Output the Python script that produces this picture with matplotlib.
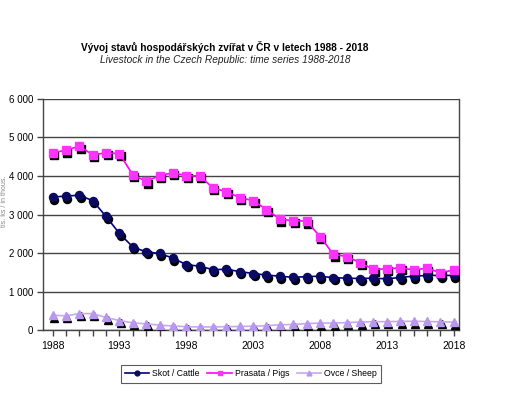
import matplotlib
matplotlib.use('Agg')
import matplotlib.pyplot as plt
import matplotlib.transforms as mtransforms
from matplotlib.ticker import FuncFormatter, MultipleLocator

plt.rcParams['font.family'] = ['Liberation Sans', 'DejaVu Sans']

years = list(range(1988, 2019))
cattle = [3450, 3480, 3500, 3360, 2950, 2510, 2160, 2030, 1990, 1870, 1700, 1660, 1570, 1580,
          1520, 1470, 1430, 1400, 1370, 1390, 1400, 1360, 1350, 1340, 1350, 1330, 1370, 1400,
          1420, 1420, 1420]
pigs = [4600, 4670, 4770, 4550, 4600, 4580, 4030, 3860, 4010, 4080, 4010, 4000, 3690, 3590,
        3440, 3360, 3130, 2880, 2840, 2830, 2430, 1970, 1910, 1750, 1580, 1590, 1620, 1560,
        1610, 1490, 1560]
sheep = [390, 370, 430, 430, 330, 250, 190, 165, 130, 110, 90, 85, 84, 90, 96, 103, 116, 140,
         148, 169, 184, 183, 197, 209, 221, 221, 226, 231, 225, 216, 210]

series = [
    ('Skot / Cattle', cattle, '#000080', '#0a0a60', 'o'),
    ('Prasata / Pigs', pigs, '#ff00ff', '#ff33ff', 's'),
    ('Ovce / Sheep', sheep, '#c8a8f0', '#b898ee', '^'),
]

fig = plt.figure(figsize=(5.14, 4.19), dpi=100)
ax = fig.add_axes([0.084, 0.212, 0.809, 0.552])

# dark "shadow" under every marker, shifted right/down
shadow = mtransforms.offset_copy(ax.transData, fig=fig, x=1.5, y=-2.5, units='dots')
for name, vals, lc, mc, mk in series:
    ax.plot(years, vals, linestyle='none', marker=mk, markersize=5.8, color='black',
            transform=shadow, zorder=3)
    ax.plot(years, vals, color=lc, linewidth=1.2, marker=mk, markersize=5.8,
            markerfacecolor=mc, markeredgecolor=mc, label=name, zorder=4)

ax.set_xlim(1987.3, 2018.4)
ax.set_ylim(0, 6000)
ax.set_xticks(range(1988, 2019, 5))
ax.xaxis.set_minor_locator(MultipleLocator(1))
ax.yaxis.set_major_locator(MultipleLocator(1000))
ax.yaxis.set_major_formatter(FuncFormatter(lambda v, p: f'{int(v):,}'.replace(',', ' ')))
ax.tick_params(axis='x', labelsize=7.5, color='#444444', length=4, width=1)
ax.tick_params(axis='y', labelsize=7, color='#444444', length=4, width=1, pad=3)
ax.tick_params(axis='x', which='minor', length=4, color='#444444', width=1)
ax.grid(axis='y', color='#444444', linewidth=1)
ax.set_axisbelow(True)
for s in ['left', 'right', 'bottom']:
    ax.spines[s].set_color('#444444')
    ax.spines[s].set_linewidth(1)
ax.spines['top'].set_visible(False)

fig.text(0.008, 0.52, 'tis. ks / in thous.', rotation=90, ha='center', va='center',
         fontsize=5, color='#888888')

fig.text(0.438, 0.888, 'Vývoj stavů hospodářských zvířat v ČR v letech 1988 - 2018',
         ha='center', va='center', fontsize=7.3, fontweight='bold')
fig.text(0.438, 0.857, 'Livestock in the Czech Republic: time series 1988-2018',
         ha='center', va='center', fontsize=7.3, style='italic', color='#222222')

leg = fig.legend(loc='center', bbox_to_anchor=(0.488, 0.108), ncol=3, fontsize=6.3,
                 frameon=True, fancybox=False, edgecolor='#333333', handlelength=2.8,
                 columnspacing=0.9, handletextpad=0.3, borderpad=0.5, markerscale=0.6)
leg.get_frame().set_linewidth(0.8)

fig.savefig('out.png', dpi=100)
